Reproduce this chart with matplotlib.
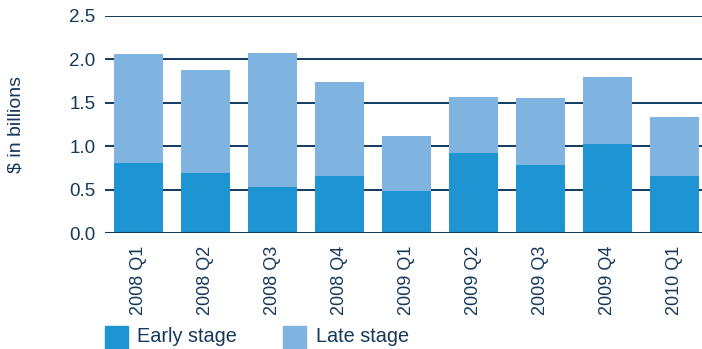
import matplotlib
matplotlib.use("Agg")
import matplotlib.pyplot as plt
from matplotlib.patches import Rectangle

quarters = ["2008 Q1", "2008 Q2", "2008 Q3", "2008 Q4", "2009 Q1",
            "2009 Q2", "2009 Q3", "2009 Q4", "2010 Q1"]
early_stage = [0.81, 0.69, 0.53, 0.66, 0.48, 0.92, 0.78, 1.02, 0.66]
total = [2.06, 1.88, 2.07, 1.74, 1.12, 1.57, 1.555, 1.80, 1.34]
late_stage = [t - e for t, e in zip(total, early_stage)]
y_ticks = [0.0, 0.5, 1.0, 1.5, 2.0, 2.5]

EARLY = "#1e94d2"
LATE = "#7fb3e0"
NAVY = "#0f3a5f"
TEXT = "#16385a"

plt.rcParams["font.family"] = ["Liberation Sans", "DejaVu Sans"]

fig = plt.figure(figsize=(7.02, 3.49), dpi=100)
ax = fig.add_axes([105 / 702, 1 - 233 / 349, 1 - 105 / 702, (233 - 16) / 349])

x = list(range(len(quarters)))
ax.bar(x, early_stage, width=0.73, color=EARLY, zorder=2)
ax.bar(x, late_stage, bottom=early_stage, width=0.73, color=LATE, zorder=2)

for v in y_ticks[1:]:
    ax.axhline(v, color=NAVY, lw=1.4, zorder=1)
ax.axhline(0, color=NAVY, lw=2.2, zorder=3)

ax.set_xlim(-0.5, 8.41)
ax.set_ylim(0, 2.5)
ax.set_yticks(y_ticks)
ax.set_yticklabels([f"{v:.1f}" for v in y_ticks])
ax.set_xticks(x)
ax.set_xticklabels(quarters, rotation=90)
ax.tick_params(axis="y", length=0, colors=TEXT, labelsize=13.5, pad=7)
ax.tick_params(axis="x", length=0, colors=TEXT, labelsize=13, pad=9)
for s in ax.spines.values():
    s.set_visible(False)

fig.text(16 / 702, 1 - 124.5 / 349, "$ in billions", rotation=90,
         ha="center", va="center", color=TEXT, fontsize=14)

# legend swatches along the bottom edge
W, H = 702, 349
legend_items = [("Early stage", EARLY, 105, 137), ("Late stage", LATE, 283, 316)]
for label, col, sx, tx in legend_items:
    fig.add_artist(Rectangle((sx / W, 1 - 349 / H), 22.5 / W, 23 / H,
                             transform=fig.transFigure, color=col))
    fig.text(tx / W, 1 - 337 / H, label, ha="left", va="center",
             color=TEXT, fontsize=14.3)

fig.savefig("out.png", dpi=100)
